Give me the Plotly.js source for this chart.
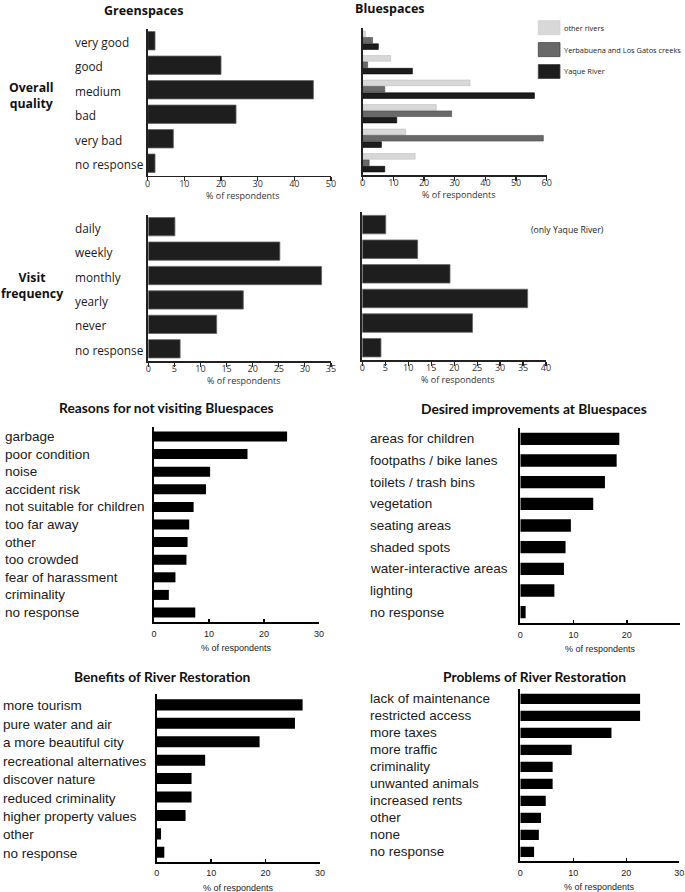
<!DOCTYPE html>
<html>
<head>
<meta charset="utf-8">
<script src="https://cdn.plot.ly/plotly-3.0.1.min.js"></script>
<style>html,body{margin:0;padding:0;background:#fff;}#chart{width:685px;height:892px;}</style>
</head>
<body>
<div id="chart"></div>
<script>
// ---------------- DATA ----------------
const qualityCats = ['very good', 'good', 'medium', 'bad', 'very bad', 'no response'];
const greenQuality = [2, 20, 45.2, 24.1, 7, 2];

const blueSeriesNames = ['other rivers', 'Yerbabuena and Los Gatos creeks', 'Yaque River'];
const blueOtherRivers = [0.9, 9.1, 35, 24, 14, 17.1];
const blueCreeks = [3.2, 1.6, 7.2, 29, 58.9, 2.1];
const blueYaque = [5.1, 16.2, 56, 11.1, 6.1, 7.2];

const freqCats = ['daily', 'weekly', 'monthly', 'yearly', 'never', 'no response'];
const greenFreq = [5.1, 25.2, 33.2, 18.2, 13.1, 6.1];
const blueFreq = [5.1, 12.05, 19.1, 36, 24, 4.06];

const reasonCats = ['garbage', 'poor condition', 'noise', 'accident risk', 'not suitable for children',
  'too far away', 'other', 'too crowded', 'fear of harassment', 'criminality', 'no response'];
const reasonVals = [24.2, 17.0, 10.2, 9.45, 7.2, 6.4, 6.1, 5.9, 3.9, 2.7, 7.5];

const improveCats = ['areas for children', 'footpaths / bike lanes', 'toilets / trash bins', 'vegetation',
  'seating areas', 'shaded spots', 'water-interactive areas', 'lighting', 'no response'];
const improveVals = [18.6, 18.1, 15.9, 13.7, 9.5, 8.5, 8.2, 6.4, 1.0];

const benefitCats = ['more tourism', 'pure water and air', 'a more beautiful city', 'recreational alternatives',
  'discover nature', 'reduced criminality', 'higher property values', 'other', 'no response'];
const benefitVals = [26.8, 25.4, 18.9, 8.9, 6.4, 6.4, 5.3, 0.8, 1.4];

const problemCats = ['lack of maintenance', 'restricted access', 'more taxes', 'more traffic', 'criminality',
  'unwanted animals', 'increased rents', 'other', 'none', 'no response'];
const problemVals = [22.6, 22.6, 17.2, 9.7, 6.1, 6.1, 4.8, 3.9, 3.5, 2.6];

const axisTitle = '% of respondents';
const panelTitles = ['Greenspaces', 'Bluespaces', 'Reasons for not visiting Bluespaces',
  'Desired improvements at Bluespaces', 'Benefits of River Restoration', 'Problems of River Restoration'];
const rowTitles = ['Overall<br>quality', 'Visit<br>frequency'];
const blueFreqNote = '(only Yaque River)';

// ---------------- LAYOUT HELPERS ----------------
const W = 685, H = 892;
const px = x => x / W;
const py = y => 1 - y / H;

const MYR = '"Open Sans", "Noto Sans", sans-serif';
const ARI = '"Liberation Sans", Arial, sans-serif';
const CAL = 'Lato, "Open Sans", sans-serif';

const blueColors = ['#d8d8d8', '#696969', '#1c1c1c'];
const blueLines = ['#bdbdbd', '#4a4a4a', '#000'];

// panel geometry: [x0, x1, yTop, yBottom] in pixels
const P = {
  1: {box: [147.7, 331, 28.5, 175.5], range: [0, 50], dtick: 10, style: 'top'},
  2: {box: [362.7, 546.7, 28, 175], range: [0, 60], dtick: 10, style: 'top'},
  3: {box: [148.3, 331, 214.5, 361], range: [0, 35], dtick: 5, style: 'top'},
  4: {box: [362.3, 546, 212.3, 360], range: [0, 40], dtick: 5, style: 'top'},
  5: {box: [154, 319, 427, 622], range: [0, 30], dtick: 10, style: 'bot'},
  6: {box: [520.3, 680, 428, 623], range: [0, 30], dtick: 10, style: 'bot'},
  7: {box: [156.7, 320, 694.4, 861.5], range: [0, 30], dtick: 10, style: 'bot'},
  8: {box: [520.3, 679.3, 689.4, 861.4], range: [0, 30], dtick: 10, style: 'bot'}
};
const panelCats = {1: qualityCats, 2: qualityCats, 3: freqCats, 4: freqCats,
  5: reasonCats, 6: improveCats, 7: benefitCats, 8: problemCats};

const layout = {
  width: W, height: H,
  margin: {l: 0, r: 0, t: 0, b: 0},
  paper_bgcolor: '#fff', plot_bgcolor: 'rgba(0,0,0,0)',
  showlegend: false,
  barmode: 'group', bargap: 0.22, bargroupgap: 0.12,
  annotations: [], shapes: []
};

Object.keys(P).forEach(k => {
  const p = P[k];
  const [x0, x1, yt, yb] = p.box;
  const top = p.style === 'top';
  const xa = k === '1' ? 'xaxis' : 'xaxis' + k;
  const ya = k === '1' ? 'yaxis' : 'yaxis' + k;
  layout[xa] = {
    domain: [px(x0), px(x1)], range: p.range, dtick: p.dtick, tick0: 0,
    anchor: k === '1' ? 'y' : 'y' + k,
    showgrid: false, zeroline: false, fixedrange: true,
    showline: true, linecolor: top ? '#222' : '#000', linewidth: top ? 1.5 : 2,
    ticks: top ? 'outside' : 'inside', ticklen: top ? 4 : 3, tickwidth: top ? 1.2 : 1.5,
    tickcolor: top ? '#222' : '#000',
    ticklabelstandoff: top ? -5 : 2,
    tickfont: {family: top ? MYR : ARI, size: 9, color: top ? '#333' : '#222'}
  };
  layout[ya] = {
    domain: [py(yb), py(yt)], type: 'category',
    categoryorder: 'array', categoryarray: panelCats[k],
    autorange: 'reversed', anchor: k === '1' ? 'x' : 'x' + k,
    showticklabels: false, ticks: '', showgrid: false, zeroline: false, fixedrange: true,
    showline: true, linecolor: top ? '#222' : '#000', linewidth: 2
  };
  // axis title
  layout.annotations.push({
    xref: 'paper', yref: 'paper', x: px((x0 + x1) / 2 + (top ? 4 : 0)),
    y: py(top ? yb + 19.5 : yb + 26), xanchor: 'center', yanchor: 'middle',
    text: axisTitle, showarrow: false,
    font: {family: top ? MYR : ARI, size: 9, color: top ? '#333' : '#222'}
  });
});

// ---------------- TRACES ----------------
function hbar(vals, cats, k, width, color, lineColor, lineW, name) {
  const t = {
    type: 'bar', orientation: 'h', x: vals, y: cats,
    xaxis: k === 1 ? 'x' : 'x' + k, yaxis: k === 1 ? 'y' : 'y' + k,
    marker: {color: color, line: {color: lineColor, width: lineW}},
    hoverinfo: 'skip', name: name || ''
  };
  if (width) t.width = width;
  return t;
}
const data = [
  hbar(greenQuality, qualityCats, 1, 0.75, '#1e1e1e', '#666', 0.8),
  hbar(blueOtherRivers, qualityCats, 2, null, blueColors[0], blueLines[0], 0.6, blueSeriesNames[0]),
  hbar(blueCreeks, qualityCats, 2, null, blueColors[1], blueLines[1], 0.6, blueSeriesNames[1]),
  hbar(blueYaque, qualityCats, 2, null, blueColors[2], blueLines[2], 0.6, blueSeriesNames[2]),
  hbar(greenFreq, freqCats, 3, 0.75, '#1e1e1e', '#666', 0.8),
  hbar(blueFreq, freqCats, 4, 0.75, '#1e1e1e', '#666', 0.8),
  hbar(reasonVals, reasonCats, 5, 0.57, '#000', '#000', 0),
  hbar(improveVals, improveCats, 6, 0.57, '#000', '#000', 0),
  hbar(benefitVals, benefitCats, 7, 0.6, '#000', '#000', 0),
  hbar(problemVals, problemCats, 8, 0.6, '#000', '#000', 0)
];

// ---------------- CATEGORY LABELS (left-aligned) ----------------
function catLabels(cats, k, xPix, font, size, dy) {
  cats.forEach(c => {
    layout.annotations.push({
      xref: 'paper', yref: k === 1 ? 'y' : 'y' + k, x: px(xPix), y: c,
      xanchor: 'left', yanchor: 'middle', yshift: dy || 0, text: c, showarrow: false,
      font: {family: font, size: size, color: '#1a1a1a'}
    });
  });
}
catLabels(qualityCats, 1, 72.7, MYR, 11.8, -1);
catLabels(freqCats, 3, 72.7, MYR, 11.8, -1);
catLabels(reasonCats, 5, 2.5, ARI, 13.5, 0);
catLabels(improveCats, 6, 368.3, ARI, 13.5, 0);
catLabels(benefitCats, 7, 0.5, ARI, 13.5, -1);
catLabels(problemCats, 8, 368, ARI, 13.5, 0);

// ---------------- TITLES ----------------
const titlePos = [[143, 10, MYR, 12.5], [390, 8.5, MYR, 12.5], [166, 407.5, CAL, 13.8],
  [534, 408.5, CAL, 13.8], [162, 676, CAL, 13.8], [534, 676, CAL, 13.8]];
panelTitles.forEach((t, i) => {
  const [x, y, f, s] = titlePos[i];
  layout.annotations.push({
    xref: 'paper', yref: 'paper', x: px(x), y: py(y), xanchor: 'center', yanchor: 'middle',
    text: '<b>' + t + '</b>', showarrow: false, font: {family: f, size: s, color: '#111'}
  });
});
[[32, 96], [32, 285.5]].forEach((pos, i) => {
  layout.annotations.push({
    xref: 'paper', yref: 'paper', x: px(pos[0]), y: py(pos[1]), xanchor: 'center', yanchor: 'middle',
    text: '<b>' + rowTitles[i] + '</b>', showarrow: false, align: 'center',
    font: {family: MYR, size: 12.3, color: '#111'}
  });
});
layout.annotations.push({
  xref: 'paper', yref: 'paper', x: px(567), y: py(229.5), xanchor: 'center', yanchor: 'middle',
  text: blueFreqNote, showarrow: false, font: {family: MYR, size: 8.7, color: '#222'}
});

// ---------------- LEGEND (Bluespaces) ----------------
blueSeriesNames.forEach((n, i) => {
  const yt = 20.7 + i * 21.9, yb = yt + 14;
  layout.shapes.push({
    type: 'rect', xref: 'paper', yref: 'paper',
    x0: px(538.3), x1: px(560), y0: py(yb), y1: py(yt),
    fillcolor: blueColors[i], line: {color: i === 0 ? '#cfcfcf' : '#444', width: 0.8}
  });
  layout.annotations.push({
    xref: 'paper', yref: 'paper', x: px(562.3), y: py((yt + yb) / 2), xanchor: 'left', yanchor: 'middle',
    text: n, showarrow: false, font: {family: MYR, size: 7.4, color: '#222'}
  });
});

Plotly.newPlot('chart', data, layout, {staticPlot: true, displayModeBar: false});
</script>
</body>
</html>
